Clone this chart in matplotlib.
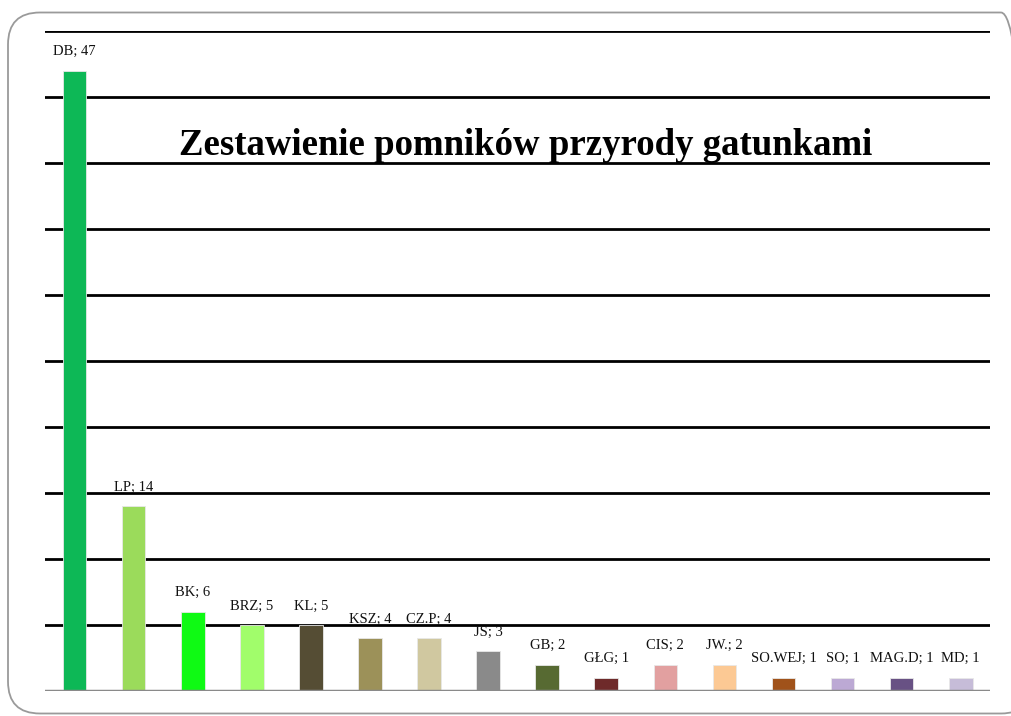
import matplotlib.pyplot as plt
from matplotlib.patches import FancyBboxPatch

# pomniki przyrody wg gatunku
species = ["DB", "LP", "BK", "BRZ", "KL", "KSZ", "CZ.P", "JS", "GB", "GŁG",
           "CIS", "JW.", "SO.WEJ", "SO", "MAG.D", "MD"]
counts = [47, 14, 6, 5, 5, 4, 4, 3, 2, 1, 2, 2, 1, 1, 1, 1]
colors = ["#0DB856", "#9BDB5B", "#0FFA14", "#A1FD6B", "#554D34", "#9C9159",
          "#D0C8A0", "#8A8A8A", "#576A32", "#6E2A2A", "#E2A0A0", "#FCC994",
          "#A0521A", "#BCA9D4", "#685184", "#C6BCD8"]

plt.rcParams["font.family"] = ["Liberation Serif", "DejaVu Serif"]

fig = plt.figure(figsize=(10.12, 7.16), dpi=100)
# ramka z zaokraglonymi rogami (w calach, zeby rogi byly okragle)
fig.patches.append(FancyBboxPatch((0.08, 0.025), 10.25, 7.01,
                                  boxstyle="round,pad=0,rounding_size=0.32",
                                  transform=fig.dpi_scale_trans, fill=False,
                                  edgecolor="#9a9a9a", linewidth=1.3))

ax = fig.add_axes([0.0445, 0.0349, 0.934, 0.9218])
x = range(len(species))
ax.bar(x, counts, width=0.4, color=colors, edgecolor="#e8e8e8", linewidth=0.6, zorder=3)

for i, (name, v) in enumerate(zip(species, counts)):
    ax.annotate(f"{name}; {v}", (i, v), xytext=(0, 9), textcoords="offset points",
                ha="center", va="bottom", fontsize=10.5, color="#111111")

ax.set_xlim(-0.5, len(species) - 0.5)
ax.set_ylim(0, 50)
for y in range(5, 51, 5):
    ax.axhline(y, color="black", linewidth=2, zorder=1)
ax.axhline(0, color="#8a8a8a", linewidth=2.5, zorder=4)
ax.set_xticks([])
ax.set_yticks([])
for s in ax.spines.values():
    s.set_visible(False)

ax.text(0.508, 0.826, "Zestawienie pomników przyrody gatunkami", transform=ax.transAxes,
        ha="center", va="center", fontsize=26.5, fontweight="bold")

fig.savefig("out.png", dpi=100)
